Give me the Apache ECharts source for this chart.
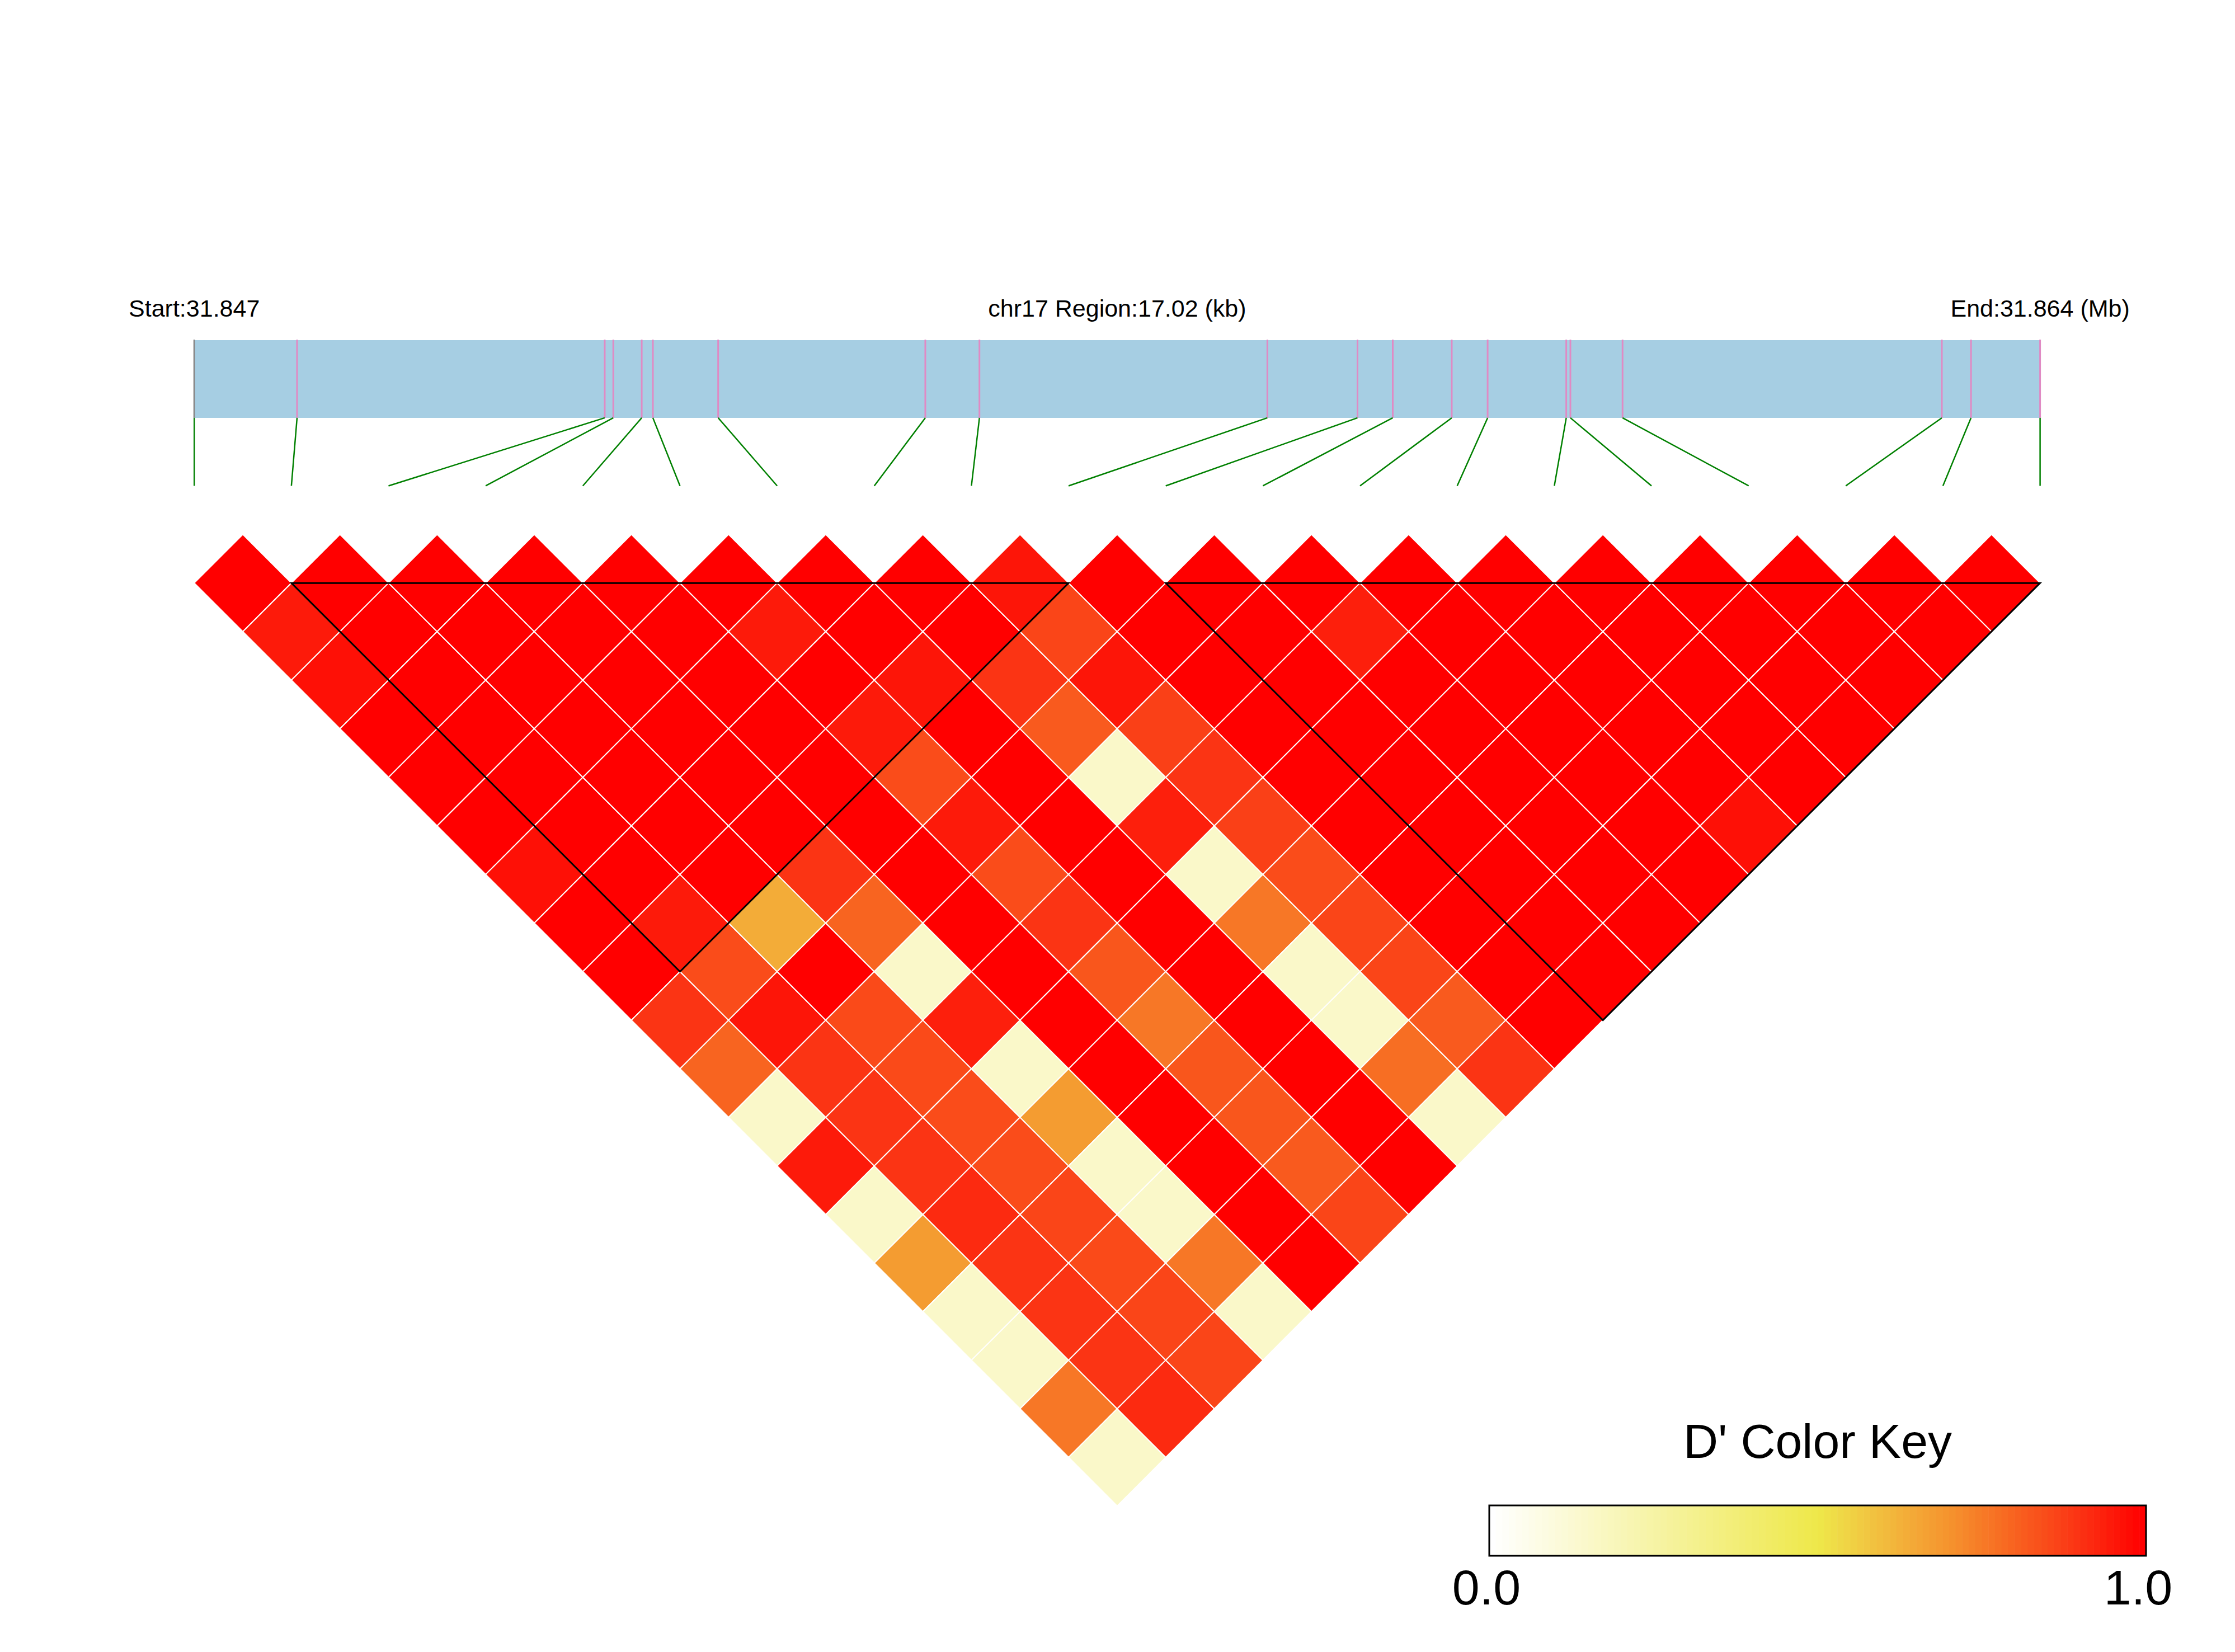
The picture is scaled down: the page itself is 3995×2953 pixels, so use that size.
<!DOCTYPE html>
<html>
<head>
<meta charset="utf-8">
<script src="https://cdn.jsdelivr.net/npm/echarts@6/dist/echarts.min.js"></script>
<style>
html,body{margin:0;padding:0;background:#ffffff;}
#chart{width:3995px;height:2953px;}
</style>
</head>
<body>
<div id="chart"></div>
<script>
// ---------------- data ----------------
const chromosome = 'chr17';
const regionStart = 31847000;   // bp
const regionEnd = 31864020;     // bp
const snpPositions = [
  31847000, 31847948, 31850785, 31850864, 31851126, 31851229, 31851831,
  31853741, 31854240, 31856895, 31857726, 31858051, 31858595, 31858926,
  31859651, 31859689, 31860170, 31863114, 31863383, 31864020
];
// haplotype blocks: [first SNP index, last SNP index]
const blocks = [[1, 9], [10, 19]];
// D' values, row i holds pairs (i, j) for j = i+1 .. 19
const dprimeRows = [
  [1, 0.95, 0.97, 1, 1, 1, 0.97, 1, 1, 0.9, 0.8, 0.15, 0.95, 0.15, 0.68, 0.15, 0.15, 0.76, 0.15],
  [1, 1, 1, 1, 1, 1, 1, 0.95, 0.85, 0.96, 0.9, 0.9, 0.9, 0.92, 0.9, 0.9, 0.9, 0.92],
  [1, 1, 1, 1, 1, 1, 1, 0.64, 1, 0.855, 0.855, 0.85, 0.85, 0.865, 0.855, 0.865, 0.865],
  [1, 1, 1, 1, 1, 1, 0.9, 0.8, 0.15, 0.94, 0.15, 0.68, 0.15, 0.15, 0.76, 0.15],
  [1, 1, 1, 1, 1, 1, 1, 1, 1, 1, 1, 1, 1, 1, 1],
  [1, 0.95, 1, 0.95, 0.85, 0.95, 0.85, 0.9, 0.83, 0.76, 0.83, 0.83, 0.82, 0.865],
  [1, 1, 0.96, 1, 1, 1, 1, 1, 1, 1, 1, 1, 1],
  [1, 1, 0.9, 0.82, 0.15, 0.94, 0.15, 0.76, 0.15, 0.15, 0.78, 0.15],
  [0.96, 0.865, 0.96, 0.875, 0.9, 0.875, 0.85, 0.865, 0.865, 0.82, 0.9],
  [1, 1, 1, 1, 1, 1, 1, 1, 1, 1],
  [1, 1, 1, 1, 1, 1, 1, 1, 1],
  [1, 0.94, 1, 1, 1, 1, 1, 1],
  [1, 1, 1, 1, 1, 1, 1],
  [1, 1, 1, 1, 1, 0.97],
  [1, 1, 1, 1, 1],
  [1, 1, 1, 1],
  [1, 1, 1],
  [1, 1],
  [1]
];
const keyTitle = "D' Color Key";
const keyTickLabels = ['0.0', '1.0'];

// ---------------- styles ----------------
const FONT = '"Liberation Sans", Arial, Helvetica, sans-serif';
const paletteStops = [
  [0.0, [255, 255, 255]],
  [0.5, [238, 232, 74]],
  [0.6, [242, 188, 62]],
  [0.7, [245, 148, 46]],
  [0.8, [248, 100, 32]],
  [0.9, [251, 52, 20]],
  [1.0, [255, 0, 0]]
];
function ldColor(v) {
  v = Math.max(0, Math.min(1, v));
  for (let k = 1; k < paletteStops.length; k++) {
    const a = paletteStops[k - 1], b = paletteStops[k];
    if (v <= b[0]) {
      const t = (v - a[0]) / (b[0] - a[0]);
      const c = a[1].map((x, m) => Math.round(x + (b[1][m] - x) * t));
      return 'rgb(' + c.join(',') + ')';
    }
  }
  return 'rgb(255,0,0)';
}

// ---------------- derived ----------------
const nSnp = snpPositions.length;
const ldData = [];
dprimeRows.forEach((row, i) => row.forEach((v, k) => ldData.push([i, i + 1 + k, v])));
const snpData = snpPositions.map((p, k) => [p, k]);

const ROW = 86.83;           // px per y unit
const Y0 = 955.3;            // px of y = 0
const gridTop = Y0 - 5 * ROW;
const gridBottomPx = Y0 + 20 * ROW;

const chart = echarts.init(document.getElementById('chart'), null, {renderer: 'svg', width: 3995, height: 2953});

// colour key graphic
const keyX = 2662, keyY = 2691, keyW = 1174, keyH = 90, keySteps = 100;
const keyChildren = [];
for (let k = 0; k < keySteps; k++) {
  keyChildren.push({
    type: 'rect',
    shape: {x: keyX + k * keyW / keySteps, y: keyY, width: keyW / keySteps + 0.6, height: keyH},
    style: {fill: ldColor(k / (keySteps - 1))},
    silent: true
  });
}
keyChildren.push({
  type: 'rect', shape: {x: keyX, y: keyY, width: keyW, height: keyH},
  style: {fill: 'none', stroke: '#000', lineWidth: 3}, silent: true
});
keyChildren.push({
  type: 'text', x: keyX + keyW / 2, y: 2576,
  style: {text: keyTitle, fill: '#000', font: '86px ' + FONT, align: 'center', verticalAlign: 'middle'}
});
keyChildren.push({
  type: 'text', x: 2657, y: 2837,
  style: {text: keyTickLabels[0], fill: '#000', font: '88px ' + FONT, align: 'center', verticalAlign: 'middle'}
});
keyChildren.push({
  type: 'text', x: 3822, y: 2837,
  style: {text: keyTickLabels[1], fill: '#000', font: '88px ' + FONT, align: 'center', verticalAlign: 'middle'}
});

const option = {
  backgroundColor: '#ffffff',
  animation: false,
  grid: {left: 347.2, right: 3995 - 3646.6, top: gridTop, bottom: 2953 - gridBottomPx},
  xAxis: [
    {type: 'value', min: 0, max: nSnp - 1, show: false},
    {type: 'value', min: regionStart, max: regionEnd, show: false}
  ],
  yAxis: {type: 'value', min: -5, max: 20, inverse: true, show: false},
  graphic: [{type: 'group', children: keyChildren}],
  series: [
    {
      type: 'custom', name: 'region', xAxisIndex: 1, clip: false, z: 1,
      data: [[regionStart, regionEnd]],
      renderItem: function (params, api) {
        const s = api.value(0), e = api.value(1);
        const p0 = api.coord([s, -4]), p1 = api.coord([e, -2.4]);
        const textY = p0[1] - 57;
        const mid = api.coord([(s + e) / 2, -4]);
        const ts = {fill: '#000', font: '43px ' + FONT, align: 'center', verticalAlign: 'middle'};
        return {
          type: 'group',
          children: [
            {type: 'rect', shape: {x: p0[0], y: p0[1], width: p1[0] - p0[0], height: p1[1] - p0[1]},
             style: {fill: '#A6CEE3'}},
            {type: 'text', x: p0[0], y: textY,
             style: Object.assign({text: 'Start:' + (s / 1e6).toFixed(3)}, ts)},
            {type: 'text', x: mid[0], y: textY,
             style: Object.assign({text: chromosome + ' Region:' + ((e - s) / 1000).toFixed(2) + ' (kb)'}, ts)},
            {type: 'text', x: p1[0], y: textY,
             style: Object.assign({text: 'End:' + (e / 1e6).toFixed(3) + ' (Mb)'}, ts)}
          ]
        };
      }
    },
    {
      type: 'custom', name: 'snps', xAxisIndex: 1, clip: false, z: 2,
      data: snpData,
      renderItem: function (params, api) {
        const p = api.value(0), k = api.value(1);
        const top = api.coord([p, -4.01]);
        const bot = api.coord([p, -2.4]);
        const target = regionStart + k * (regionEnd - regionStart) / (nSnp - 1);
        const end = api.coord([target, -1]);
        return {
          type: 'group',
          children: [
            {type: 'line', shape: {x1: top[0], y1: top[1], x2: bot[0], y2: bot[1]},
             style: {stroke: k === 0 ? '#888888' : '#E08AC4', lineWidth: 3}},
            {type: 'line', shape: {x1: bot[0], y1: bot[1], x2: end[0], y2: end[1]},
             style: {stroke: '#008000', lineWidth: 2.5}}
          ]
        };
      }
    },
    {
      type: 'custom', name: 'LD', xAxisIndex: 0, clip: false, z: 3,
      data: ldData,
      renderItem: function (params, api) {
        const i = api.value(0), j = api.value(1), v = api.value(2);
        const cx = (i + j) / 2, cy = j - i;
        const pts = [[cx, cy - 1], [cx + 0.5, cy], [cx, cy + 1], [cx - 0.5, cy]].map(q => api.coord(q));
        return {type: 'polygon', shape: {points: pts},
                style: {fill: ldColor(v), stroke: '#ffffff', lineWidth: 2}};
      }
    },
    {
      type: 'custom', name: 'blocks', xAxisIndex: 0, clip: false, z: 4,
      data: blocks,
      renderItem: function (params, api) {
        const a = api.value(0), b = api.value(1);
        const pts = [[a, 1], [b, 1], [(a + b) / 2, 1 + (b - a)]].map(q => api.coord(q));
        return {type: 'polygon', shape: {points: pts},
                style: {fill: 'none', stroke: '#000000', lineWidth: 3}};
      }
    }
  ]
};
chart.setOption(option);
</script>
</body>
</html>
